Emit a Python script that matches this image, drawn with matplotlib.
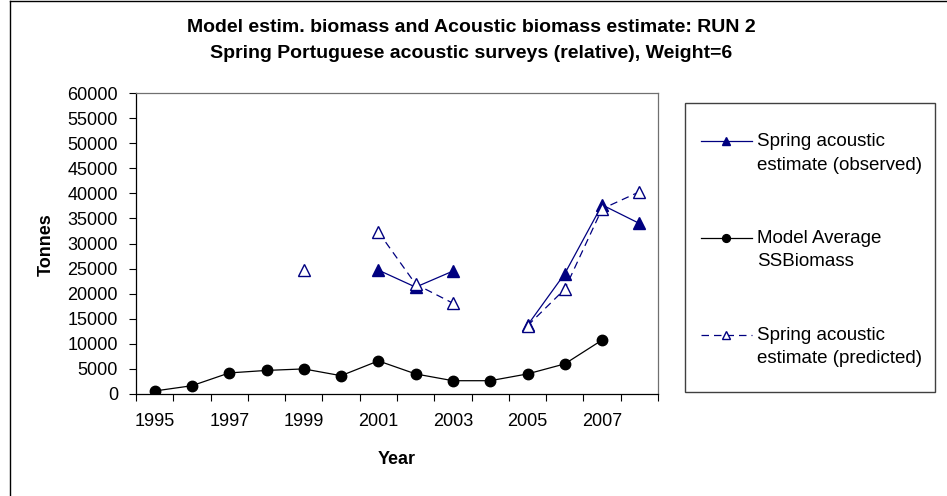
import numpy as np
import matplotlib
matplotlib.use("Agg")
import matplotlib.pyplot as plt
from matplotlib.patches import Rectangle
from matplotlib.lines import Line2D

plt.rcParams['font.family'] = ['Liberation Sans', 'DejaVu Sans']

years = [1995, 1996, 1997, 1998, 1999, 2000, 2001, 2002, 2003, 2004, 2005, 2006, 2007, 2008]
observed = [np.nan, np.nan, np.nan, np.nan, np.nan, np.nan, 24700, 21300, 24500, np.nan, 13700, 24000, 37700, 34000]
model = [600, 1650, 4200, 4700, 5000, 3650, 6600, 4000, 2650, 2650, 4000, 6000, 10750, np.nan]
predicted = [np.nan, np.nan, np.nan, np.nan, 24700, np.nan, 32300, 21900, 18100, np.nan, 13600, 20900, 36900, 40300]
tick_labels = ['1995', '1997', '1999', '2001', '2003', '2005', '2007']

navy = '#000080'

fig = plt.figure(figsize=(9.47, 4.96), dpi=100)
ax = fig.add_axes([136/947, 1-394/496, 522/947, 301/496])

x = np.arange(len(years))
l1, = ax.plot(x, observed, color=navy, lw=0.9, marker='^', ms=8, mfc=navy, mec=navy,
              label='Spring acoustic\nestimate (observed)', zorder=3)
l2, = ax.plot(x, model, color='black', lw=0.9, marker='o', ms=7.5, mfc='black', mec='black',
              label='Model Average\nSSBiomass', zorder=2)
l3, = ax.plot(x, predicted, color=navy, lw=0.9, ls=(0, (6, 4)), marker='^', ms=8, mfc='white',
              mec=navy, mew=1.0, label='Spring acoustic\nestimate (predicted)', zorder=4)

ax.set_xlim(-0.5, len(years) - 0.5)
ax.set_ylim(0, 60000)
ax.set_yticks(np.arange(0, 60001, 5000))
ax.set_xticks(np.arange(-0.5, len(years), 1.0))
ax.set_xticklabels([])
ax.set_xticks(np.arange(0, len(years), 2), minor=True)
ax.set_xticklabels(tick_labels, minor=True)
ax.tick_params(axis='x', which='minor', length=0, pad=14, labelsize=13)
ax.tick_params(axis='x', which='major', direction='out', length=5, width=0.8)
ax.tick_params(axis='y', direction='out', length=5, width=0.8, labelsize=13, pad=8)

for s in ['top', 'right']:
    ax.spines[s].set_color('#707070')
    ax.spines[s].set_linewidth(0.9)
for s in ['left', 'bottom']:
    ax.spines[s].set_color('black')
    ax.spines[s].set_linewidth(0.9)

fig.text(46/947, 1-245/496, 'Tonnes', rotation=90, ha='center', va='center',
         fontsize=13, fontweight='bold')
fig.text(397/947, 1-460/496, 'Year', ha='center', va='center', fontsize=13, fontweight='bold')

fig.text(471/947, 1-28/496, 'Model estim. biomass and Acoustic biomass estimate: RUN 2',
         ha='center', va='center', fontsize=14, fontweight='bold')
fig.text(471/947, 1-54/496, 'Spring Portuguese acoustic surveys (relative), Weight=6',
         ha='center', va='center', fontsize=14, fontweight='bold')

# legend frame
fig.add_artist(Rectangle((685/947, 1-392/496), 250/947, 289/496, transform=fig.transFigure,
                         fill=False, edgecolor='#404040', lw=1.0))
leg = fig.legend(handles=[l1, l2, l3], loc='center left', bbox_to_anchor=(684/947, 1-250/496),
                 frameon=False, fontsize=13.5, labelspacing=3.0, handlelength=2.7,
                 handletextpad=0.3, markerscale=0.75)
for t in leg.get_texts():
    t.set_linespacing(1.5)
# align each legend handle with the first line of its two-line label
for h in leg.legend_handles:
    h.set_ydata(np.asarray(h.get_ydata()) + 8.5)

# outer border
fig.add_artist(Line2D([10/947, 10/947], [0, 1-1/496], transform=fig.transFigure, color='black', lw=1.0))
fig.add_artist(Line2D([10/947, 1], [1-1/496, 1-1/496], transform=fig.transFigure, color='black', lw=1.0))

fig.savefig('out.png', dpi=100)
